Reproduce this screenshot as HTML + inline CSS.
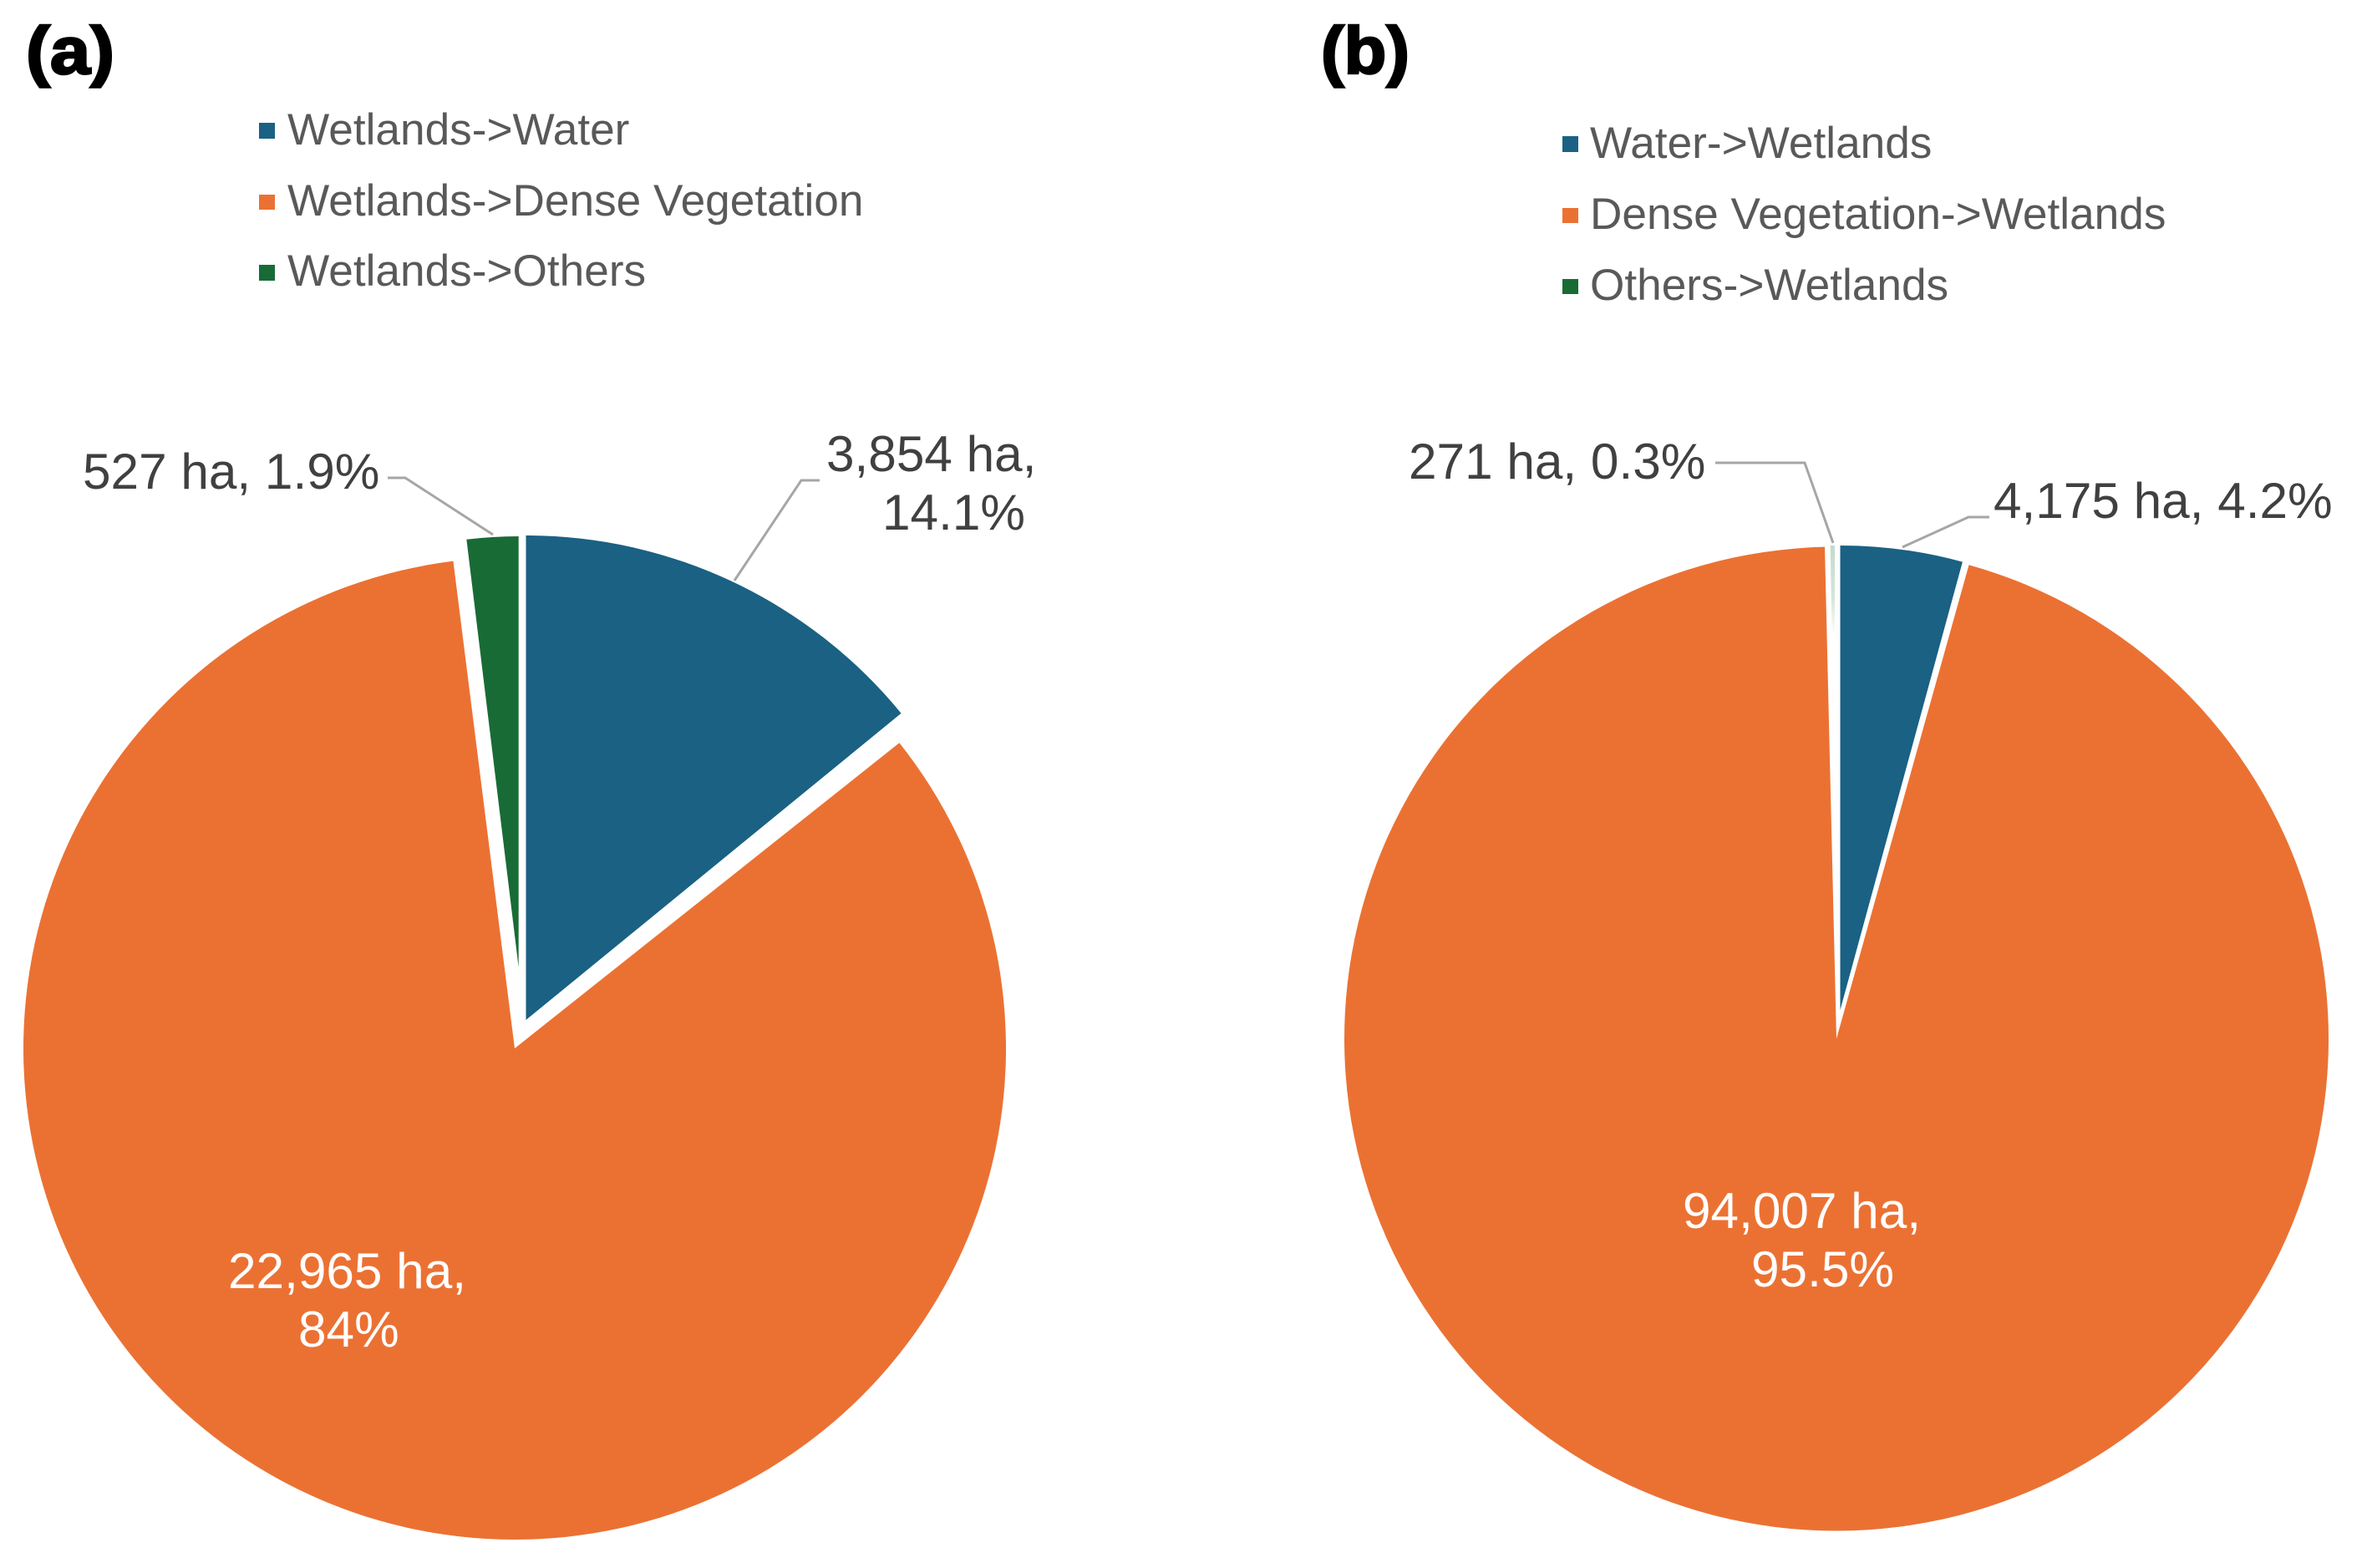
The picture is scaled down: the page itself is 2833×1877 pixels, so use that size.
<!DOCTYPE html>
<html lang="en">
<head>
<meta charset="utf-8">
<title>Wetland change pie charts</title>
<style>
  html, body { margin: 0; padding: 0; background: #fff; }
  svg { display: block; font-family: "Liberation Sans", sans-serif; }
  .legend { font-size: 53.2px; fill: #595959; }
  .dl { font-size: 60.3px; fill: #404040; }
  .dlw { font-size: 60.3px; fill: #ffffff; }
  .leader { fill: none; stroke: #a6a6a6; stroke-width: 3; }
  .panel { font-size: 80px; font-weight: bold; fill: #000; stroke: #000; stroke-width: 2.5px; }
</style>
</head>
<body>
<svg id="chart" xmlns="http://www.w3.org/2000/svg" width="2833" height="1877" viewBox="0 0 2833 1877">
  <defs>
    <linearGradient id="pale-green-fade" gradientUnits="userSpaceOnUse" x1="0" y1="650" x2="0" y2="760">
      <stop offset="0" stop-color="#c3dacb"/>
      <stop offset="0.6" stop-color="#d5e5da"/>
      <stop offset="1" stop-color="#ffffff"/>
    </linearGradient>
  </defs>
  <rect width="2833" height="1877" fill="#ffffff"/>

  <g id="pie-a"></g>
  <g id="pie-b"></g>

  <text class="panel" x="31" y="88" textLength="106" lengthAdjust="spacingAndGlyphs">(a)</text>
  <text class="panel" x="1581" y="88" textLength="106" lengthAdjust="spacingAndGlyphs">(b)</text>

  <g>
    <rect x="310" y="147" width="19" height="19" fill="#1a6183"/>
    <text class="legend" x="344" y="173">Wetlands-&gt;Water</text>
    <rect x="310" y="233" width="19" height="18" fill="#eb7133"/>
    <text class="legend" x="344" y="258">Wetlands-&gt;Dense Vegetation</text>
    <rect x="310" y="317" width="19" height="19" fill="#196b36"/>
    <text class="legend" x="344" y="342">Wetlands-&gt;Others</text>
  </g>

  <g>
    <rect x="1870" y="163" width="19" height="19" fill="#1a6183"/>
    <text class="legend" x="1903" y="189">Water-&gt;Wetlands</text>
    <rect x="1870" y="249" width="19" height="18" fill="#eb7133"/>
    <text class="legend" x="1903" y="274">Dense Vegetation-&gt;Wetlands</text>
    <rect x="1870" y="334" width="19" height="18" fill="#196b36"/>
    <text class="legend" x="1903" y="359">Others-&gt;Wetlands</text>
  </g>

  <polyline class="leader" points="464,572 485,572 590,640"/>
  <polyline class="leader" points="981,575 959,575 879,695"/>
  <polyline class="leader" points="2053,554 2160,554 2194,650"/>
  <polyline class="leader" points="2381,619 2356,619 2277,655"/>

  <text class="dl" x="99" y="585">527 ha, 1.9%</text>
  <text class="dl" x="989" y="564">3,854 ha,</text>
  <text class="dl" x="1056" y="634">14.1%</text>
  <text class="dlw" x="273" y="1542">22,965 ha,</text>
  <text class="dlw" x="357" y="1612">84%</text>

  <text class="dl" x="1686" y="573">271 ha, 0.3%</text>
  <text class="dl" x="2386" y="620">4,175 ha, 4.2%</text>
  <text class="dlw" x="2014" y="1470">94,007 ha,</text>
  <text class="dlw" x="2096" y="1540">95.5%</text>
</svg>

<script>
// Chart data (hectares), in clockwise drawing order from 12 o'clock
const categoriesA = ['wetlands-water', 'wetlands-dense-vegetation', 'wetlands-others'];
const hectaresA = [3854, 22965, 527];
const categoriesB = ['water-wetlands', 'dense-vegetation-wetlands', 'others-wetlands'];
const hectaresB = [4175, 94007, 271];

// Slice layout: each slice has an exploded hub, radius and angular trim (degrees) of its own
const colorsA = ['#1a6183', '#eb7133', '#196b36'];
const colorsB = ['#1a6183', '#eb7133', 'url(#pale-green-fade)'];
const layoutA = [
  { cx: 629.5, cy: 1221, r: 580, trimStart: 0, trimEnd: 0 },
  { cx: 616, cy: 1255, r: 588, trimStart: 0.8, trimEnd: 0.25 },
  { cx: 620.7, cy: 1158, r: 516, trimStart: 0, trimEnd: 0 }
];
const layoutB = [
  { cx: 2202.5, cy: 1209, r: 556, trimStart: 0, trimEnd: 0 },
  { cx: 2198, cy: 1243.5, r: 589, trimStart: 0.35, trimEnd: 0.37 },
  { cx: 2196, cy: 960, r: 307, trimStart: 0, trimEnd: 0 }
];

function polar(cx, cy, r, deg) {
  const rad = deg * Math.PI / 180;
  return [cx + r * Math.sin(rad), cy - r * Math.cos(rad)];
}

function slicePath(g, a0, a1) {
  const p0 = polar(g.cx, g.cy, g.r, a0);
  const p1 = polar(g.cx, g.cy, g.r, a1);
  const large = (a1 - a0) > 180 ? 1 : 0;
  return 'M' + g.cx + ',' + g.cy +
         'L' + p0[0].toFixed(2) + ',' + p0[1].toFixed(2) +
         'A' + g.r + ',' + g.r + ' 0 ' + large + ' 1 ' + p1[0].toFixed(2) + ',' + p1[1].toFixed(2) + 'Z';
}

function drawPie(groupId, categories, values, colors, layout) {
  const group = document.getElementById(groupId);
  const total = values.reduce(function (a, b) { return a + b; }, 0);
  let angle = 0;
  values.forEach(function (v, i) {
    const sweep = v / total * 360;
    const g = layout[i];
    const path = document.createElementNS('http://www.w3.org/2000/svg', 'path');
    path.setAttribute('d', slicePath(g, angle + g.trimStart, angle + sweep - g.trimEnd));
    path.setAttribute('fill', colors[i]);
    
    
    group.appendChild(path);
    angle += sweep;
  });
}

drawPie('pie-a', categoriesA, hectaresA, colorsA, layoutA);
drawPie('pie-b', categoriesB, hectaresB, colorsB, layoutB);
</script>
</body>
</html>
